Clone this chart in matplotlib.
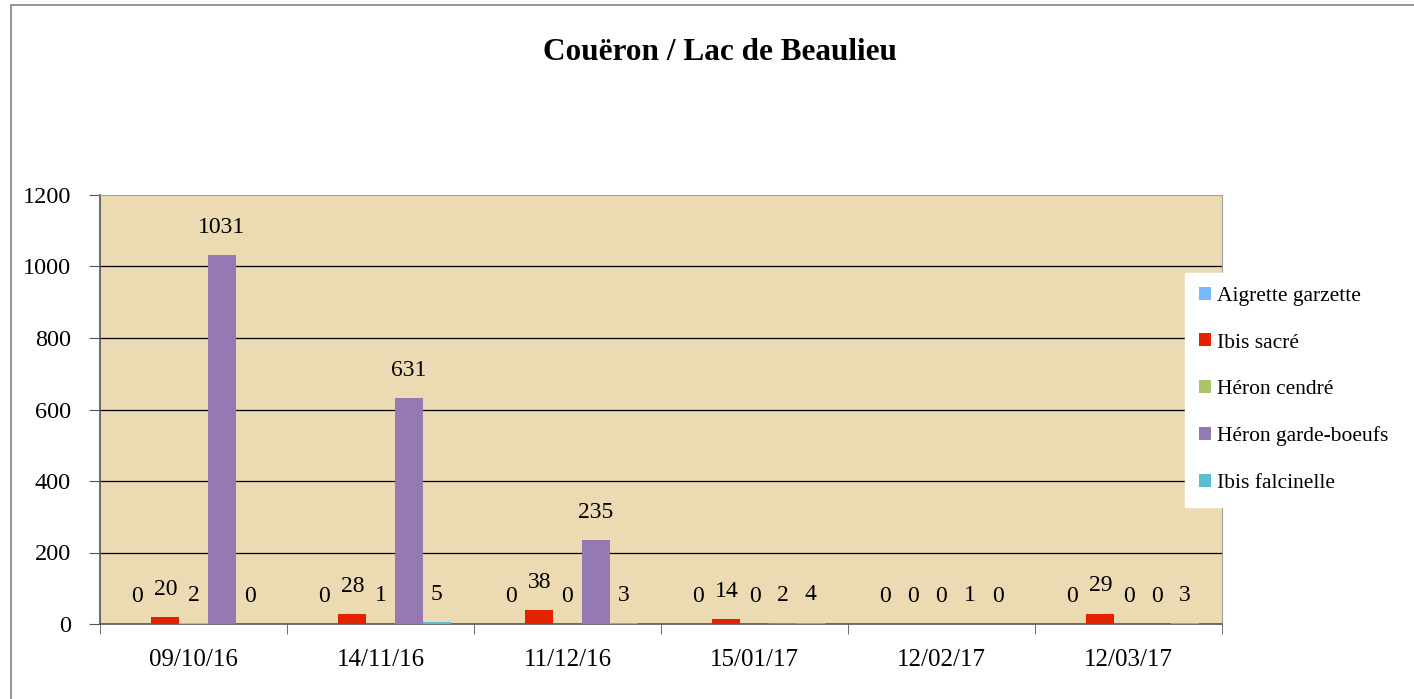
import numpy as np
import matplotlib.pyplot as plt
from matplotlib.patches import Rectangle

plt.rcParams['font.family'] = ['Liberation Serif', 'DejaVu Serif']

# donnees du graphique
dates = ['09/10/16', '14/11/16', '11/12/16', '15/01/17', '12/02/17', '12/03/17']
especes = ['Aigrette garzette', 'Ibis sacré', 'Héron cendré',
           'Héron garde-boeufs', 'Ibis falcinelle']
aigrette = [0, 0, 0, 0, 0, 0]
ibis_sacre = [20, 28, 38, 14, 0, 29]
heron_cendre = [2, 1, 0, 0, 0, 0]
heron_gb = [1031, 631, 235, 2, 1, 0]
ibis_falc = [0, 5, 3, 4, 0, 3]
series = [aigrette, ibis_sacre, heron_cendre, heron_gb, ibis_falc]
couleurs = ['#77B9FF', '#E52200', '#A9C46A', '#9479B3', '#5BBDD0']

fig = plt.figure(figsize=(14.14, 6.99), dpi=100)
ax = fig.add_axes([100/1414, 1-624/699, 1122/1414, 429/699])
ax.set_facecolor('#ECDAB2')

# cadre autour du graphique
fig.patches.append(Rectangle((11/1414, -0.1), 1.2, 1-5/699+0.1, transform=fig.transFigure,
                             fill=False, edgecolor='#808080', linewidth=1.2, zorder=0))

x = np.arange(len(dates))
w = 0.15
for i, (vals, nom, c) in enumerate(zip(series, especes, couleurs)):
    pos = x + (i - 2) * w
    ax.bar(pos, vals, width=w, color=c, label=nom, zorder=3)
    for p, v in zip(pos, vals):
        ax.annotate(str(v), (p, v), xytext=(0, 20), textcoords='offset points',
                    ha='center', va='center', fontsize=17, zorder=4)

ax.set_xlim(-0.5, len(dates) - 0.5)
ax.set_ylim(0, 1200)
ax.set_yticks(range(0, 1201, 200))
ax.tick_params(axis='y', labelsize=17.5, length=8, color='#555555', pad=13)
ax.set_xticks(x)
ax.set_xticklabels(dates, fontsize=18)
ax.set_xticks(np.arange(-0.5, len(dates), 1), minor=True)
ax.tick_params(axis='x', which='major', length=0, pad=18)
ax.tick_params(axis='x', which='minor', length=7, color='#555555')
for y in range(200, 1200, 200):
    ax.axhline(y, color='black', linewidth=0.9, zorder=1)
for s in ['top', 'right']:
    ax.spines[s].set_color('#A0A0A0')
for s in ['left', 'bottom']:
    ax.spines[s].set_color('#555555')
    ax.spines[s].set_linewidth(1.2)

fig.text(0.509, 1-52/699, 'Couëron / Lac de Beaulieu', ha='center', va='center',
         fontsize=22.5, fontweight='bold')

leg = fig.legend(loc='upper left', bbox_to_anchor=(1185/1414, 1-273/699),
                 frameon=True, fancybox=False, fontsize=15.5, labelspacing=1.27,
                 handlelength=0.55, handleheight=0.55, handletextpad=0.3,
                 borderpad=0.65, borderaxespad=0, framealpha=1)
leg.get_frame().set_edgecolor('white')
leg.get_frame().set_facecolor('white')

fig.savefig('out.png', dpi=100)
